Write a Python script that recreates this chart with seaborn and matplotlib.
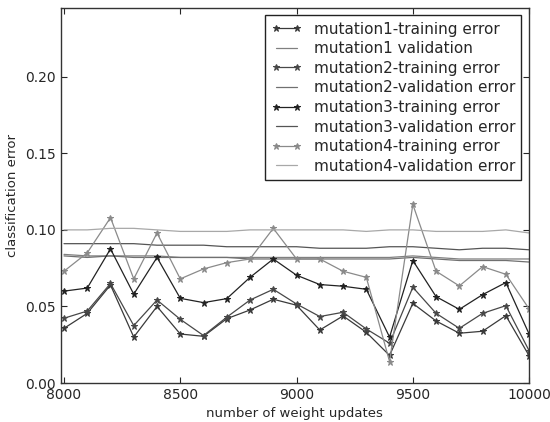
import matplotlib
matplotlib.use("Agg")
import matplotlib.pyplot as plt
import seaborn as sns
import numpy as np
import pandas as pd

updates = list(range(8000, 10001, 100))

m1_train = [0.0357, 0.0455, 0.064, 0.030, 0.050, 0.032, 0.0305, 0.042, 0.0477, 0.0547, 0.0508,
            0.0346, 0.0438, 0.0331, 0.018, 0.052, 0.0405, 0.0325, 0.0338, 0.044, 0.0178]
m2_train = [0.0423, 0.047, 0.065, 0.0375, 0.0542, 0.0416, 0.031, 0.043, 0.0542, 0.0612, 0.0516,
            0.0434, 0.0462, 0.0353, 0.026, 0.0625, 0.0455, 0.0357, 0.0455, 0.0505, 0.0211]
m3_train = [0.060, 0.062, 0.0876, 0.058, 0.082, 0.0553, 0.0525, 0.0551, 0.069, 0.081, 0.0704,
            0.0643, 0.0632, 0.0612, 0.030, 0.080, 0.0564, 0.0481, 0.0577, 0.0656, 0.032]
m4_train = [0.073, 0.085, 0.108, 0.068, 0.098, 0.068, 0.0745, 0.0786, 0.081, 0.101, 0.081,
            0.081, 0.073, 0.069, 0.014, 0.1166, 0.073, 0.0634, 0.076, 0.071, 0.0484]

m1_val = [0.084, 0.083, 0.083, 0.083, 0.083, 0.082, 0.082, 0.082, 0.082, 0.082, 0.082,
          0.082, 0.082, 0.082, 0.082, 0.083, 0.082, 0.081, 0.081, 0.081, 0.081]
m2_val = [0.083, 0.082, 0.083, 0.082, 0.082, 0.082, 0.082, 0.082, 0.081, 0.081, 0.081,
          0.081, 0.081, 0.081, 0.081, 0.082, 0.081, 0.080, 0.080, 0.080, 0.079]
m3_val = [0.091, 0.091, 0.091, 0.091, 0.090, 0.090, 0.090, 0.089, 0.089, 0.089, 0.089,
          0.088, 0.088, 0.088, 0.089, 0.089, 0.088, 0.087, 0.088, 0.088, 0.087]
m4_val = [0.100, 0.100, 0.101, 0.101, 0.100, 0.099, 0.099, 0.099, 0.100, 0.100, 0.100,
          0.100, 0.100, 0.099, 0.100, 0.100, 0.099, 0.099, 0.099, 0.100, 0.098]

labels = ["mutation1-training error", "mutation1 validation",
          "mutation2-training error", "mutation2-validation error",
          "mutation3-training error", "mutation3-validation error",
          "mutation4-training error", "mutation4-validation error"]
series = [m1_train, m1_val, m2_train, m2_val, m3_train, m3_val, m4_train, m4_val]
colors = ["#3a3a3a", "#808080", "#484848", "#707070", "#222222", "#555555", "#8a8a8a", "#a8a8a8"]

sns.set_style("ticks")
plt.rcParams.update({
    "font.family": ["DejaVu Sans"],
    "xtick.direction": "in", "ytick.direction": "in",
    "xtick.top": True, "ytick.right": True,
    "legend.numpoints": 2,
})

fig = plt.figure(figsize=(5.5, 4.22), dpi=100)
ax = fig.add_axes([0.11, 0.0924, 0.852, 0.889])

for lab, vals, col in zip(labels, series, colors):
    df = pd.DataFrame({"x": updates, "y": vals})
    is_train = "training" in lab
    sns.lineplot(data=df, x="x", y="y", ax=ax, color=col, label=lab,
                 marker="*" if is_train else None, markersize=5 if is_train else 0,
                 markeredgecolor=col, linewidth=0.9)

ax.set_xlim(7985, 10000)
ax.set_ylim(0, 0.245)
ax.set_xticks([8000, 8500, 9000, 9500, 10000])
ax.set_yticks([0.0, 0.05, 0.10, 0.15, 0.20])
ax.set_yticklabels(["0.00", "0.05", "0.10", "0.15", "0.20"])
ax.tick_params(labelsize=10, length=4, width=0.8)
ax.set_xlabel("number of weight updates", fontsize=9.5)
ax.set_ylabel("classification error", fontsize=9.5)
for s in ax.spines.values():
    s.set_color("#333333")
    s.set_linewidth(1.0)

leg = ax.legend(loc="upper right", fontsize=11, frameon=True, fancybox=False,
                handlelength=2.0, borderaxespad=0.5, labelspacing=0.3,
                borderpad=0.4)
leg.get_frame().set_edgecolor("#222222")
leg.get_frame().set_linewidth(1.0)
leg.get_frame().set_alpha(1.0)

fig.savefig("out.png", dpi=100)
